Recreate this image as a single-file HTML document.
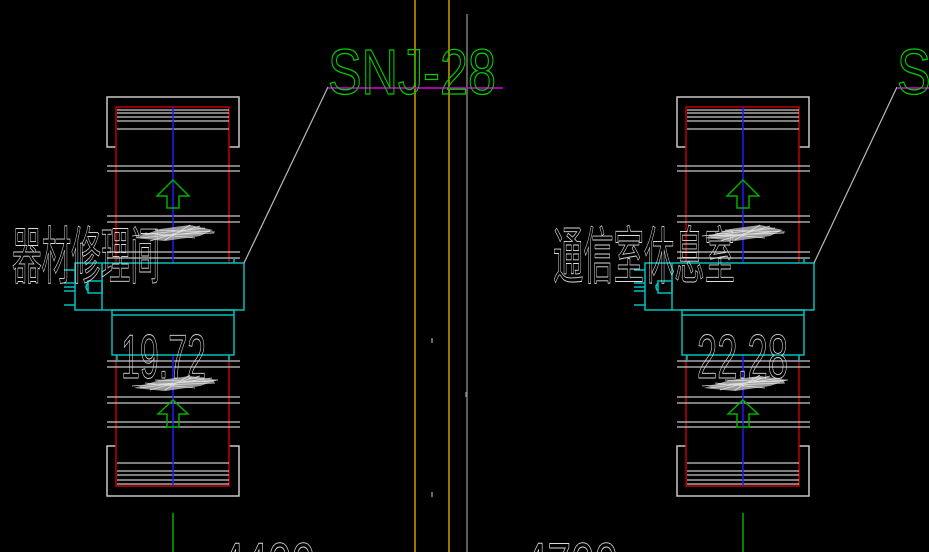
<!DOCTYPE html>
<html><head><meta charset="utf-8"><style>
html,body{margin:0;padding:0;background:#000;overflow:hidden;width:929px;height:552px}
svg{display:block;overflow:hidden}
text{font-family:"Liberation Sans","Noto Sans CJK SC",sans-serif}
</style></head><body>
<svg width="929" height="552" viewBox="0 0 929 552" xmlns="http://www.w3.org/2000/svg">
<defs>
<clipPath id="cp"><rect width="929" height="552"/></clipPath>
<g id="unit" fill="none" stroke-width="1.5">
  <path d="M116 147 H107 V97 H239 V147 H229" stroke="#c8c8c8"/>
  <path d="M116 446 H107 V496 H239 V446 H229" stroke="#c8c8c8"/>
  <path d="M116 263 V107 H229 V263" stroke="#c00000"/>
  <path d="M116 355 V486 H229 V355" stroke="#c00000"/>
  <g stroke="#c8c8c8" stroke-width="1.3">
    <path d="M117 110H229M117 113H229M117 117H229M117 121H229M117 129H229"/>
    <path d="M107 166H240M107 171H240M107 216H240M107 222H240M107 252H240M107 258H240"/>
    <path d="M107 361H240M107 367H240M107 397H240M107 403H240M107 422H240M107 427H240"/>
    <path d="M117 463H229M117 471H229M117 475H229M117 480H229M117 484H229"/>
  </g>
  <path d="M173 107V263M173 355V486" stroke="#1a1aff"/>
  <path d="M173 180 L157 196 H167 V208 H179 V196 H189 Z" stroke="#00b000"/>
  <path d="M173 400 L158 414 H167 V427 H179 V414 H188 Z" stroke="#00b000"/>
  <path d="M173 513V552" stroke="#00b000"/>
  <path d="M135 238 L160 229 L190 225 L213 230 L200 236 L165 241 Z" fill="#cfcfcf" stroke="none" opacity="0.75"/>
  <path d="M134 388 L160 380 L190 376 L218 380 L200 386 L165 391 Z" fill="#cfcfcf" stroke="none" opacity="0.75"/>
  <g stroke="#e0e0e0" stroke-width="0.8">
    <path d="M132 236 L205 228 M140 238 L210 231 M150 241 L200 226 M160 235 L214 233 M145 233 L195 238 M165 240 L190 225 M155 230 L215 232"/>
    <path d="M132 386 L218 380 M140 388 L212 378 M150 390 L200 376 M160 385 L215 383 M145 383 L195 388 M165 390 L190 375 M155 380 L214 382"/>
  </g>
  <g stroke="#00c0c0">
    <rect x="75" y="263" width="169" height="47"/>
    <path d="M102 263V310"/>
    <rect x="88" y="281" width="14" height="12"/>
    <path d="M88 283 Q84 287 88 291"/>
    <path d="M64 270H75M64 287H75M64 305H75M64 283H75M64 291H75"/>
    <path d="M234 258V263"/>
    <rect x="112" y="310" width="122" height="45"/>
    <path d="M112 315H234M117 355V361M229 355V361"/>
  </g>
</g>
</defs>
<g clip-path="url(#cp)">
<rect width="929" height="552" fill="#000"/>
<path d="M415 0V552M449 0V552" stroke="#d49a00" stroke-width="1.5"/>
<path d="M467 14V552" stroke="#9a9a9a" stroke-width="1.2"/>
<path d="M432 338V343M432 492V497M466 392V397" stroke="#888" stroke-width="1.5"/>

<use href="#unit"/>
<use href="#unit" transform="translate(570,0)"/>

<path d="M244 263 L328 87" stroke="#b8b8b8" stroke-width="1.2"/>
<path d="M328 88H503" stroke="#c000c0" stroke-width="1.8"/>
<path d="M814 263 L897 87" stroke="#b8b8b8" stroke-width="1.2"/>
<path d="M897 88H929" stroke="#c000c0" stroke-width="1.8"/>

<g fill="none" stroke="#00d000" stroke-width="1.3" font-size="64">
  <text x="328" y="94" textLength="168" lengthAdjust="spacingAndGlyphs">SNJ-28</text>
  <text x="897" y="94" textLength="168" lengthAdjust="spacingAndGlyphs">SNJ-28</text>
</g>
<g fill="none" stroke="#dcdcdc" stroke-width="0.9">
  <text x="12" y="278" font-size="62" textLength="148" lengthAdjust="spacingAndGlyphs">器材修理间</text>
  <text x="553" y="278" font-size="62" textLength="182" lengthAdjust="spacingAndGlyphs">通信室休息室</text>
  <text x="121" y="378" font-size="62" textLength="85" lengthAdjust="spacingAndGlyphs">19.72</text>
  <text x="697" y="378" font-size="62" textLength="91" lengthAdjust="spacingAndGlyphs">22.28</text>
  <text x="221" y="585" font-size="60" textLength="94" lengthAdjust="spacingAndGlyphs">4400</text>
  <text x="524" y="585" font-size="60" textLength="94" lengthAdjust="spacingAndGlyphs">4700</text>
</g>
</g>
</svg>
</body></html>
